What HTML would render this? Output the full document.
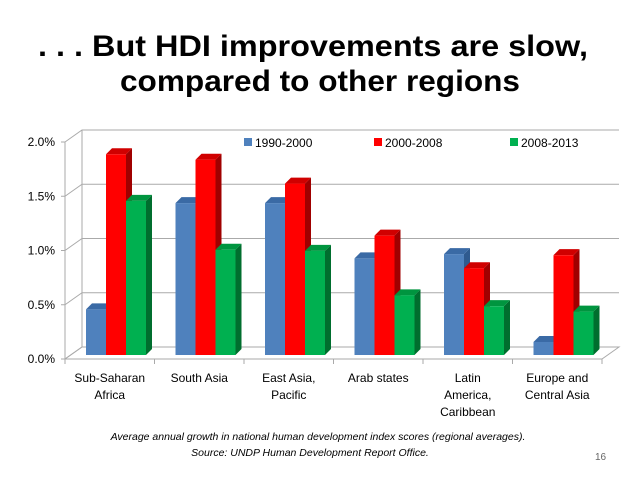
<!DOCTYPE html>
<html><head><meta charset="utf-8"><style>
body{margin:0;background:#fff;font-family:"Liberation Sans",sans-serif}
#wrap{position:relative;width:638px;height:479px;overflow:hidden}
</style></head><body>
<div id="wrap">
<svg id="chart" width="638" height="479">
<text x="38" y="56" textLength="550" lengthAdjust="spacingAndGlyphs" font-size="30" font-weight="bold" fill="#000">. . . But HDI improvements are slow,</text>
<text x="120" y="91" textLength="400" lengthAdjust="spacingAndGlyphs" font-size="30" font-weight="bold" fill="#000">compared to other regions</text>
<g id="axes"></g><g id="bars"></g><g id="legend"></g>
<text x="318" y="440" text-anchor="middle" font-size="10.5" font-style="italic">Average annual growth in national human development index scores (regional averages).</text>
<text x="310" y="456" text-anchor="middle" font-size="10.5" font-style="italic">Source: UNDP Human Development Report Office.</text>
<text x="595" y="460" font-size="10" fill="#666">16</text>
</svg></div>
<script>
const categories=[["Sub-Saharan","Africa"],["South Asia"],["East Asia,","Pacific"],["Arab states"],["Latin","America,","Caribbean"],["Europe and","Central Asia"]];
const series=["1990-2000","2000-2008","2008-2013"];
const s1=[0.42,1.40,1.40,0.89,0.93,0.12];
const s2=[1.85,1.80,1.58,1.10,0.80,0.92];
const s3=[1.42,0.97,0.96,0.55,0.45,0.40];
const ticks=[0,0.5,1.0,1.5,2.0];
const tickLabels=["0.0%","0.5%","1.0%","1.5%","2.0%"];
const NS="http://www.w3.org/2000/svg";
function mk(t,a,p){const e=document.createElementNS(NS,t);for(const k in a)e.setAttribute(k,a[k]);p.appendChild(e);return e;}
const x0=65,x1=602,yF=359,pxPer=108.5,DX=17,DY=12;
const yTick=v=>yF-v*pxPer;
const yBar=v=>355-v*pxPer;
const gw=(x1-x0)/6;
const axes=document.getElementById('axes');
let fl=mk('polygon',{points:`${x0},${yF} ${x1},${yF} ${x1+DX},${yF-DY} ${x0+DX},${yF-DY}`,fill:'none',stroke:'#aaa','stroke-width':1},axes);

ticks.forEach((t,i)=>{
 const y=yTick(t);
 let g=mk('polyline',{points:`${x0},${y} ${x0+DX},${y-DY} ${x1+DX},${y-DY}`,fill:'none',stroke:'#aaa','stroke-width':1},axes);
 
 mk('line',{x1:x0-4,y1:y,x2:x0,y2:y,stroke:'#aaa'},axes);
 let l=mk('text',{x:x0-10,y:y+4,'text-anchor':'end','font-size':12,fill:'#000'},axes);l.textContent=tickLabels[i];
 
});
mk('line',{x1:x0,y1:yF,x2:x0,y2:yTick(2),stroke:'#aaa'},axes);
mk('line',{x1:x0+DX,y1:yF-DY,x2:x0+DX,y2:yTick(2)-DY,stroke:'#aaa'},axes);
for(let i=0;i<=6;i++){mk('line',{x1:x0+i*gw,y1:yF,x2:x0+i*gw,y2:yF+5,stroke:'#aaa'},axes);}
categories.forEach((c,i)=>{
 c.forEach((ln,j)=>{let t=mk('text',{x:x0+gw*(i+0.5),y:382+j*17,'text-anchor':'middle','font-size':12,fill:'#000'},axes);t.textContent=ln;
 });
});
const cols=[["#4f81bd","#3a6aa5","#2f5a8f"],["#ff0000","#d00000","#a00000"],["#00b050","#00953f","#006e2e"]];
const data=[s1,s2,s3];
const bars=document.getElementById('bars');
const bw=20,d=6;
categories.forEach((c,i)=>{
 data.forEach((s,k)=>{
  const x=x0+gw*i+21+k*bw, yt=yBar(s[i]), yb=355;
  const g=mk('g',{},bars);
  
  
  mk('polygon',{points:`${x+bw},${yt} ${x+bw+d},${yt-d} ${x+bw+d},${yb-d} ${x+bw},${yb}`,fill:cols[k][2]},g);
  mk('polygon',{points:`${x},${yt} ${x+d},${yt-d} ${x+bw+d},${yt-d} ${x+bw},${yt}`,fill:cols[k][1]},g);
  mk('rect',{x:x,y:yt,width:bw,height:yb-yt,fill:cols[k][0]},g);
 });
});
const lg=document.getElementById('legend');
const lx=[244,374,510];
series.forEach((s,k)=>{
 const g=mk('g',{},lg);
 
 
 mk('rect',{x:lx[k],y:138,width:8,height:8,fill:cols[k][0]},g);
 const t=mk('text',{x:lx[k]+11,y:147,'font-size':12,fill:'#000'},g);t.textContent=s;
});
</script>
</body></html>
